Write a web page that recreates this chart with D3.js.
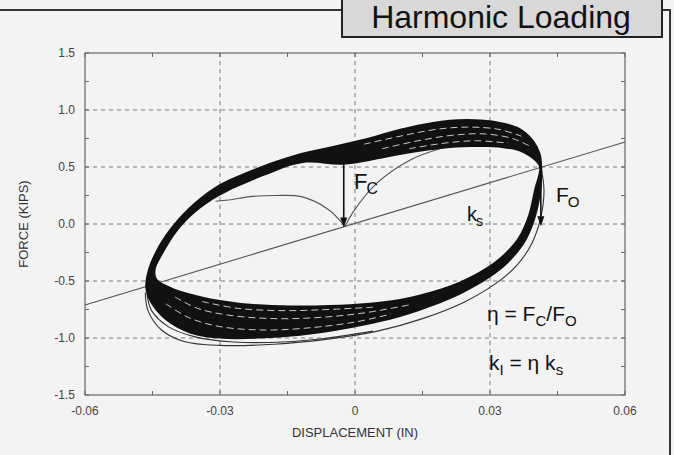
<!DOCTYPE html>
<html>
<head>
<meta charset="utf-8" />
<title>Harmonic Loading</title>
<script src="https://d3js.org/d3.v7.min.js"></script>
<style>
  body { margin: 0; background: #f3f3f3; }
  svg { display: block; font-family: "Liberation Sans", Arial, sans-serif; }
</style>
</head>
<body>
<script>
// tick values / labels
const xTicks = [-0.06, -0.03, 0, 0.03, 0.06];
const xTickLabels = ["-0.06", "-0.03", "0", "0.03", "0.06"];
const yTicks = [-1.5, -1.0, -0.5, 0.0, 0.5, 1.0, 1.5];
const yTickLabels = ["-1.5", "-1.0", "-0.5", "0.0", "0.5", "1.0", "1.5"];
const xMinor = [-0.045, -0.015, 0.015, 0.045];
const yMinor = [-1.25, -0.75, -0.25, 0.25, 0.75, 1.25];

// outer edge of the black band of steady cycles (displacement, force)
const bandOuter = [
  [0.0416, 0.50], [0.0414, 0.30], [0.0403, 0.08], [0.0381, -0.14],
  [0.0346, -0.32], [0.0300, -0.47], [0.0233, -0.62], [0.0144, -0.76],
  [0.0056, -0.86], [-0.0033, -0.93], [-0.0122, -0.98], [-0.0211, -1.005],
  [-0.0300, -1.005], [-0.0367, -0.96], [-0.0422, -0.84], [-0.0456, -0.68],
  [-0.0466, -0.56], [-0.0460, -0.40], [-0.0442, -0.23], [-0.0413, -0.05],
  [-0.0370, 0.14], [-0.0311, 0.325], [-0.0213, 0.50], [-0.0122, 0.62],
  [-0.0049, 0.685], [0.0027, 0.755], [0.0100, 0.835], [0.0173, 0.895],
  [0.0249, 0.92], [0.0322, 0.895], [0.0367, 0.84], [0.0396, 0.74],
  [0.0412, 0.62]
];
// inner edge (hole) of the band
const bandInner = [
  [0.0409, 0.50], [0.0398, 0.30], [0.0385, 0.08], [0.0362, -0.12],
  [0.0326, -0.28], [0.0280, -0.41], [0.0211, -0.54], [0.0122, -0.64],
  [0.0033, -0.69], [-0.0056, -0.71], [-0.0144, -0.715], [-0.0233, -0.70],
  [-0.0311, -0.66], [-0.0367, -0.61], [-0.0411, -0.55], [-0.0440, -0.48],
  [-0.0443, -0.40], [-0.0425, -0.25], [-0.0396, -0.07], [-0.0355, 0.10],
  [-0.0300, 0.25], [-0.0204, 0.42], [-0.0116, 0.535], [-0.0025, 0.52],
  [0.0060, 0.575], [0.0122, 0.62], [0.0211, 0.667], [0.0280, 0.675],
  [0.0330, 0.665], [0.0370, 0.63], [0.0398, 0.56]
];
// first cycles, thin lines just outside the band
const firstCycle = [
  [0.0413, 0.50], [0.0420, 0.30], [0.0413, 0.06], [0.0393, -0.17],
  [0.0358, -0.37], [0.0310, -0.53], [0.0240, -0.69], [0.0150, -0.83],
  [0.0050, -0.94], [-0.0060, -1.01], [-0.0180, -1.055], [-0.0300, -1.065],
  [-0.0380, -1.03], [-0.0430, -0.93], [-0.0460, -0.76], [-0.0466, -0.60]
];
const secondCycle = [
  [-0.0462, -0.62], [-0.0452, -0.76], [-0.0415, -0.90], [-0.0355, -0.99],
  [-0.0270, -1.035], [-0.0160, -1.035], [-0.0060, -1.00], [0.0040, -0.94]
];
// light hatch lines seen inside the wide parts of the band
const hatchLines = [
  [[0.002, 0.70], [0.010, 0.77], [0.018, 0.83], [0.025, 0.85], [0.032, 0.83], [0.037, 0.77]],
  [[0.006, 0.66], [0.014, 0.73], [0.022, 0.78], [0.029, 0.79], [0.035, 0.75], [0.039, 0.68]],
  [[0.012, 0.66], [0.020, 0.71], [0.027, 0.73], [0.034, 0.71]],
  [[-0.042, -0.70], [-0.037, -0.82], [-0.030, -0.90], [-0.020, -0.93], [-0.010, -0.91], [0.000, -0.86], [0.008, -0.79]],
  [[-0.040, -0.64], [-0.035, -0.74], [-0.028, -0.80], [-0.018, -0.83], [-0.008, -0.82], [0.002, -0.78], [0.012, -0.71]],
  [[-0.034, -0.68], [-0.026, -0.74], [-0.016, -0.76], [-0.006, -0.75], [0.004, -0.73]]
];
// initial loading curves leaving the origin
const loadRight = [[-0.0022, -0.02], [-0.0005, 0.10], [0.0049, 0.36], [0.0122, 0.56], [0.0189, 0.66], [0.0249, 0.71]];
const loadLeft = [[-0.0022, -0.02], [-0.0060, 0.13], [-0.0119, 0.24], [-0.0176, 0.25], [-0.0233, 0.24], [-0.0280, 0.21], [-0.0310, 0.20]];
// secant stiffness line ks
const ksLine = [[-0.06, -0.71], [0.06, 0.72]];
// arrows Fc and Fo
const fcArrow = [[-0.0025, 0.52], [-0.0025, -0.03]];
const foArrow = [[0.0413, 0.50], [0.0413, -0.02]];

const W = 674, H = 455;
const svg = d3.select("body").append("svg").attr("width", W).attr("height", H);

svg.append("rect").attr("width", W).attr("height", H).attr("fill", "#f3f3f3");

const x = d3.scaleLinear().domain([-0.06, 0.06]).range([85, 625]);
const y = d3.scaleLinear().domain([-1.5, 1.5]).range([395, 53]);

// grid
const grid = svg.append("g").attr("stroke", "#7a7a7a").attr("stroke-width", 1).attr("stroke-dasharray", "4,4");
grid.selectAll(".gx").data(xTicks.slice(1, -1)).join("line")
  .attr("x1", d => x(d)).attr("x2", d => x(d)).attr("y1", y(1.5)).attr("y2", y(-1.5));
grid.selectAll(".gy").data(yTicks.slice(1, -1)).join("line")
  .attr("y1", d => y(d)).attr("y2", d => y(d)).attr("x1", x(-0.06)).attr("x2", x(0.06));

// ticks (inside, all four sides)
const tk = svg.append("g").attr("stroke", "#666").attr("stroke-width", 1);
xTicks.concat(xMinor).forEach(v => {
  tk.append("line").attr("x1", x(v)).attr("x2", x(v)).attr("y1", y(-1.5)).attr("y2", y(-1.5) - 4);
  tk.append("line").attr("x1", x(v)).attr("x2", x(v)).attr("y1", y(1.5)).attr("y2", y(1.5) + 4);
});
yTicks.concat(yMinor).forEach(v => {
  tk.append("line").attr("y1", y(v)).attr("y2", y(v)).attr("x1", x(-0.06)).attr("x2", x(-0.06) + 4);
  tk.append("line").attr("y1", y(v)).attr("y2", y(v)).attr("x1", x(0.06)).attr("x2", x(0.06) - 4);
});

svg.append("rect")
  .attr("x", x(-0.06)).attr("y", y(1.5))
  .attr("width", x(0.06) - x(-0.06)).attr("height", y(-1.5) - y(1.5))
  .attr("fill", "none").attr("stroke", "#666").attr("stroke-width", 1.2);

// tick labels
svg.selectAll(".xl").data(xTicks).join("text")
  .attr("x", d => x(d)).attr("y", 415)
  .attr("text-anchor", "middle").attr("font-size", 12).attr("fill", "#444")
  .text((d, i) => xTickLabels[i]);
svg.selectAll(".yl").data(yTicks).join("text")
  .attr("x", 75).attr("y", d => y(d) + 4)
  .attr("text-anchor", "end").attr("font-size", 12).attr("fill", "#444")
  .text((d, i) => yTickLabels[i]);

svg.append("text").attr("x", 355).attr("y", 437).attr("text-anchor", "middle")
  .attr("font-size", 13).attr("fill", "#333").text("DISPLACEMENT (IN)");
svg.append("text").attr("transform", "translate(28,224) rotate(-90)").attr("text-anchor", "middle")
  .attr("font-size", 13).attr("fill", "#333").text("FORCE (KIPS)");

const line = d3.line().x(d => x(d[0])).y(d => y(d[1]));
const closed = d3.line().x(d => x(d[0])).y(d => y(d[1])).curve(d3.curveCatmullRomClosed);
const smooth = d3.line().x(d => x(d[0])).y(d => y(d[1])).curve(d3.curveCatmullRom);

// ks line
svg.append("path").attr("d", line(ksLine)).attr("fill", "none").attr("stroke", "#555").attr("stroke-width", 1.1);

// initial loading curves
[loadRight, loadLeft].forEach(c => {
  svg.append("path").attr("d", smooth(c)).attr("fill", "none").attr("stroke", "#555").attr("stroke-width", 1.1);
});

// first cycles
[firstCycle, secondCycle].forEach(c => {
  svg.append("path").attr("d", smooth(c)).attr("fill", "none").attr("stroke", "#333").attr("stroke-width", 1.1);
});

// band of cycles
svg.append("path").attr("d", closed(bandOuter) + closed(bandInner))
  .attr("fill", "#111").attr("fill-rule", "evenodd");

hatchLines.forEach(c => {
  svg.append("path").attr("d", smooth(c)).attr("fill", "none")
    .attr("stroke", "#c8c8c8").attr("stroke-width", 1).attr("stroke-dasharray", "7,4");
});

// arrows
function arrow(a) {
  const x0 = x(a[0][0]), y0 = y(a[0][1]), y1 = y(a[1][1]);
  svg.append("line").attr("x1", x0).attr("x2", x0).attr("y1", y0).attr("y2", y1 - 6)
    .attr("stroke", "#111").attr("stroke-width", 1.6);
  svg.append("path").attr("d", `M${x0 - 3.5},${y1 - 10}L${x0 + 3.5},${y1 - 10}L${x0},${y1}Z`).attr("fill", "#111");
}
arrow(fcArrow);
arrow(foArrow);

// annotation labels
function sub(xp, yp, main, s, size) {
  const t = svg.append("text").attr("x", xp).attr("y", yp).attr("font-size", size).attr("fill", "#111");
  t.append("tspan").text(main);
  t.append("tspan").attr("dy", 5).attr("dx", -1).attr("font-size", size * 0.72).text(s);
  return t;
}
sub(354, 189, "F", "C", 22);
sub(556, 202, "F", "O", 21);
sub(467, 221, "k", "s", 20);

const eq1 = svg.append("text").attr("x", 487).attr("y", 321).attr("font-size", 21).attr("fill", "#111");
eq1.append("tspan").text("\u03b7 = F");
eq1.append("tspan").attr("dy", 5).attr("font-size", 15).text("C");
eq1.append("tspan").attr("dy", -5).text("/F");
eq1.append("tspan").attr("dy", 5).attr("font-size", 15).text("O");

const eq2 = svg.append("text").attr("x", 489).attr("y", 370).attr("font-size", 21).attr("fill", "#111");
eq2.append("tspan").text("k");
eq2.append("tspan").attr("dy", 5).attr("font-size", 15).text("I");
eq2.append("tspan").attr("dy", -5).text(" = \u03b7 k");
eq2.append("tspan").attr("dy", 5).attr("font-size", 15).text("s");

// outer frame and title box
svg.append("path").attr("d", "M0,10H670V455").attr("fill", "none").attr("stroke", "#333").attr("stroke-width", 2);
svg.append("rect").attr("x", 342).attr("y", -4).attr("width", 320).attr("height", 41)
  .attr("fill", "#d9d9d9").attr("stroke", "#222").attr("stroke-width", 2);
svg.append("text").attr("x", 501).attr("y", 28).attr("text-anchor", "middle")
  .attr("font-size", 32).attr("fill", "#111").text("Harmonic Loading");
</script>
</body>
</html>
